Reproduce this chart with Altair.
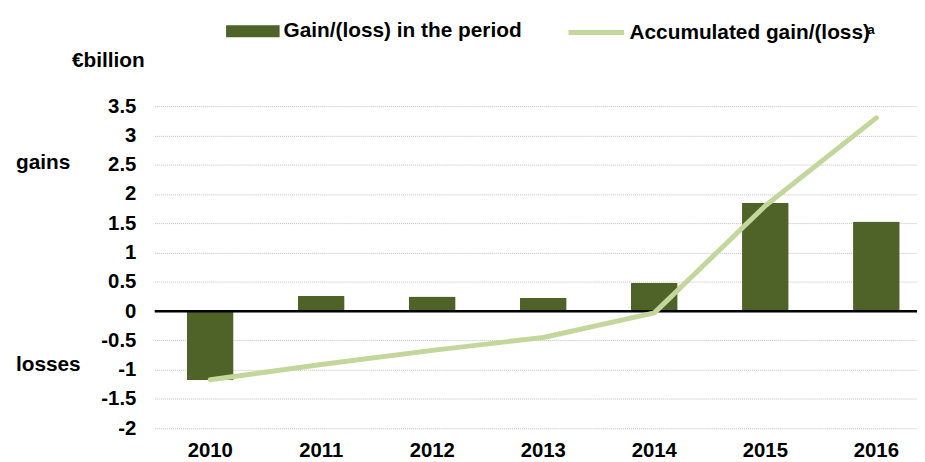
import altair as alt
import pandas as pd

years = ["2010", "2011", "2012", "2013", "2014", "2015", "2016"]
gain_period = [-1.18, 0.26, 0.25, 0.23, 0.48, 1.85, 1.53]
gain_accum = [-1.17, -0.91, -0.67, -0.45, -0.03, 1.80, 3.30]
y_ticks = [-2, -1.5, -1, -0.5, 0, 0.5, 1, 1.5, 2, 2.5, 3, 3.5]

bar_name = "Gain/(loss) in the period"
line_name = "Accumulated gain/(loss)"
bar_color = "#4F6228"
line_color = "#C3D69B"
FONT = "Liberation Sans"

df = pd.DataFrame({
    "year": years,
    "gain": gain_period,
    "accum": gain_accum,
    "s_bar": [bar_name] * len(years),
    "s_line": [line_name] * len(years),
})

x_enc = alt.X(
    "year:N",
    sort=years,
    scale=alt.Scale(range=[0, 784], paddingInner=0.58, paddingOuter=0.29),
    axis=alt.Axis(
        title=None, labelAngle=0, ticks=False, tickSize=0, domain=False, grid=False,
        labelFont=FONT, labelFontSize=20.5, labelFontWeight="bold", labelColor="black",
        labelPadding=12,
    ),
)

y_scale = alt.Scale(domain=[-2, 3.5], nice=False, zero=False)
y_axis = alt.Axis(
    values=y_ticks, labelExpr="'' + datum.value", labelOverlap=False,
    ticks=False, domain=False,
    grid=True, gridColor="#BFBFBF", gridDash=[1, 1], gridWidth=1,
    labelFont=FONT, labelFontSize=20.5, labelFontWeight="bold", labelColor="black",
    labelPadding=19,
    title="€billion", titleAngle=0, titleAlign="left", titleBaseline="alphabetic",
    titleX=-84, titleY=-40, titleFont=FONT, titleFontSize=21, titleFontWeight="bold",
    titleColor="black",
)

base = alt.Chart(df)

bars = base.mark_bar(cornerRadius=1).encode(
    x=x_enc,
    y=alt.Y("gain:Q", scale=y_scale, axis=y_axis),
    fill=alt.Fill(
        "s_bar:N",
        scale=alt.Scale(domain=[bar_name], range=[bar_color]),
        legend=alt.Legend(
            title=None, orient="none", legendX=72, legendY=-102.5, padding=0, offset=0,
            symbolType="M-1,-0.222H1V0.222H-1Z", symbolSize=2916, symbolStrokeWidth=0,
            labelOffset=4, labelFont=FONT, labelFontSize=21, labelFontWeight="bold",
            labelColor="black", labelLimit=500,
        ),
    ),
)

zero = alt.Chart(pd.DataFrame({"z": [0]})).mark_rule(color="black", strokeWidth=2.5).encode(
    y=alt.Y("z:Q", scale=y_scale, axis=y_axis)
)

line = base.mark_line(strokeWidth=5, strokeCap="round", strokeJoin="round").encode(
    x=x_enc,
    y=alt.Y("accum:Q", scale=y_scale, axis=y_axis),
    stroke=alt.Stroke(
        "s_line:N",
        scale=alt.Scale(domain=[line_name], range=[line_color]),
        legend=alt.Legend(
            title=None, orient="none", legendX=415, legendY=-104.7, padding=0, offset=0,
            symbolType="stroke", symbolSize=3136, symbolStrokeWidth=5,
            labelOffset=3, labelFont=FONT, labelFontSize=21, labelFontWeight="bold",
            labelColor="black", labelLimit=500,
        ),
    ),
)

sup = alt.Chart(pd.DataFrame({"t": ["a"]})).mark_text(
    font=FONT, fontSize=13, fontWeight="bold", align="left", baseline="alphabetic", color="black"
).encode(text="t:N", x=alt.value(719), y=alt.value(-73))

gains = alt.Chart(pd.DataFrame({"t": ["gains"]})).mark_text(
    font=FONT, fontSize=21, fontWeight="bold", align="left", baseline="alphabetic", color="black"
).encode(text="t:N", x=alt.value(-140), y=alt.value(63))

losses = alt.Chart(pd.DataFrame({"t": ["losses"]})).mark_text(
    font=FONT, fontSize=21, fontWeight="bold", align="left", baseline="alphabetic", color="black"
).encode(text="t:N", x=alt.value(-140), y=alt.value(267.5))

chart = alt.layer(bars, zero, line, sup, gains, losses).resolve_scale(
    fill="independent", stroke="independent"
).properties(
    width=769, height=325,
    padding={"left": 148, "top": 97, "right": 0, "bottom": 32},
    autosize=alt.AutoSizeParams(type="none"),
    background="white",
).configure_view(stroke=None)

chart.save("out.html", embed_options={"renderer": "svg", "actions": False})
